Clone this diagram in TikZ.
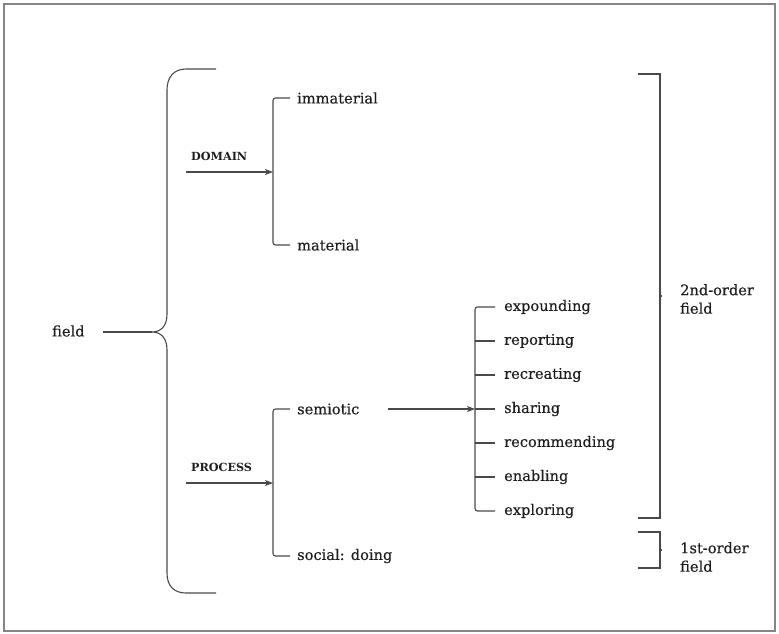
\documentclass[tikz,border=0pt]{standalone}
\usepackage{fontspec}
\setmainfont{DejaVu Serif}[FakeBold=0.35]
\newfontfamily\labelbold{DejaVu Serif Bold}
\usetikzlibrary{arrows.meta}
\definecolor{linegray}{HTML}{4A4A4A}
\definecolor{textgray}{HTML}{1E1E1E}
\definecolor{framegray}{HTML}{858585}
\begin{document}
\begin{tikzpicture}[x=1pt,y=-1pt,
  every node/.style={inner sep=0pt,text=textgray},
  term/.style={anchor=west,font=\fontsize{14.6}{18.5}\selectfont},
  sysname/.style={anchor=south west,font=\labelbold\fontsize{11.2}{12}\selectfont},
  link/.style={draw=linegray,line width=1.1pt},
  feed/.style={link,-{Stealth[length=8pt,width=6pt,inset=2pt]}},
  bracket/.style={link,rounded corners=2.5pt}]
% page and frame
\useasboundingbox (0,0) rectangle (779,633);
\draw[framegray,line width=1.3pt] (4,4) rectangle (775,631);

% entry term
\node[term] (field) at (52,331) {field};
\coordinate (cusp) at (152,332);
\coordinate (fstart) at (103,332);
\draw[link] (fstart) -- (cusp);

% large curly brace
\draw[link] (216,69) -- (186,69) .. controls (174,69) and (167,77) .. (167,90)
  -- (167,314) .. controls (167,326) and (161,332) .. (cusp)
  .. controls (161,332) and (167,338) .. (167,350)
  -- (167,573) .. controls (167,586) and (174,593) .. (186,593) -- (216,593);

% DOMAIN system
\node[sysname] (domain) at (191,161) {DOMAIN};
\coordinate (dstart) at (186,172);
\coordinate (dhub) at (273,172);
\node[term] (imm) at (297,98) {immaterial};
\node[term] (mat) at (297,245) {material};
\draw[feed] (dstart) -- (dhub);
\draw[bracket] ([xshift=-7pt]imm.west) -| (dhub) |- ([xshift=-7pt]mat.west);

% PROCESS system
\node[sysname] (process) at (191,472) {PROCESS};
\coordinate (pstart) at (186,483);
\coordinate (phub) at (273,483);
\node[term] (sem) at (297,409) {semiotic};
\node[term] (soc) at (297,556) {social: doing};
\draw[feed] (pstart) -- (phub);
\draw[bracket] ([xshift=-7pt]sem.west) -| (phub) |- ([xshift=-7pt]soc.west);

% semiotic sub-system
\coordinate (shub) at (475,409);
\coordinate (sstart) at (388,409);
\node[term] (e1) at (504,307) {expounding};
\node[term] (e2) at (504,341) {reporting};
\node[term] (e3) at (504,375) {recreating};
\node[term] (e4) at (504,409) {sharing};
\node[term] (e5) at (504,443) {recommending};
\node[term] (e6) at (504,477) {enabling};
\node[term] (e7) at (504,511) {exploring};
\draw[feed] (sstart) -- (shub);
\draw[bracket] ([xshift=-9pt]e1.west) -| (shub) |- ([xshift=-9pt]e7.west);
\foreach \n in {e2,e3,e4,e5,e6}
  \draw[link] (475,0 |- \n.west) -- ([xshift=-9pt]\n.west);

% order brackets
\node[term,align=left] (second) at (680,299) {2nd-order\\field};
\node[term,align=left] (first) at (680,557) {1st-order\\field};
\draw[link] (638,74) -- (660,74) -- (660,518) -- (638,518);
\draw[link] (660,296) -- (662,296);
\draw[link] (638,532) -- (660,532) -- (660,568) -- (638,568);
\draw[link] (660,550) -- (662,550);
\end{tikzpicture}
\end{document}
